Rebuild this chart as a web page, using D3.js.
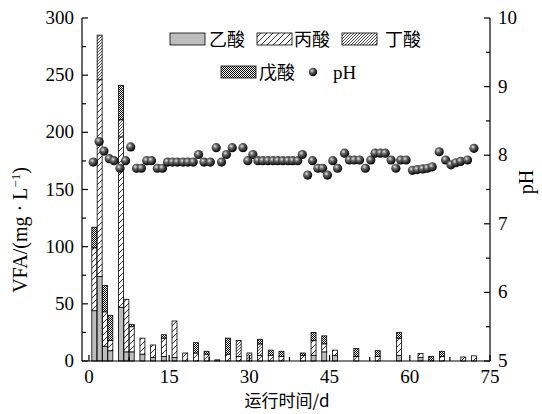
<!DOCTYPE html>
<html lang="zh">
<head>
  <meta charset="UTF-8">
  <title>VFA and pH</title>
  <script src="https://cdn.jsdelivr.net/npm/d3@7"></script>
  <style>
    body { margin: 0; background: #fff; }
    text { font-family: "Liberation Serif", "Noto Sans CJK SC", serif; fill: #000; }
    .cjk { font-family: "Noto Sans CJK SC", "Liberation Serif", sans-serif; }
  </style>
</head>
<body>
<script>
  // sampling days of the VFA bars
  const barDays = [1, 2, 3, 4, 6, 7, 8, 10, 12, 14, 16, 18, 20, 22, 24, 26, 28, 30, 32, 34, 36,
                   40, 42, 44, 46, 50, 54, 58, 62, 64, 66, 70, 72];
  const acetic    = [44, 74, 13, 9, 47, 8, 8, 6, 3, 4, 3, 0, 0, 0, 1, 0, 0, 0, 0, 0, 0,
                     0, 5, 8, 5, 0, 0, 5, 3, 0, 0, 0, 0];
  const propionic = [55, 172, 30, 9, 149, 46, 22, 14, 11, 16, 32, 7, 7, 6, 0, 6, 4, 0, 5, 5, 4,
                     5, 13, 7, 4.5, 4, 4, 15, 3.5, 0, 4, 3.5, 4.5];
  const butyric   = [0, 39, 0, 0, 15, 0, 0, 0, 0, 0, 0, 0, 0, 0, 0, 0, 14, 7, 10, 0, 0,
                     0, 0, 0, 0, 0, 0, 0, 0, 0, 0, 0, 0];
  const valeric   = [18, 0, 23, 22, 30, 0, 2, 0, 0, 3, 0, 0, 9, 2.5, 0, 14, 0, 0, 4, 4.5, 4.5,
                     2, 7, 7, 0, 7, 5, 5, 0, 4, 4.5, 0, 0];

  const phDays = [0.8, 1.9, 2.8, 3.8, 4.7, 5.8, 6.85, 7.8, 8.9, 9.8, 10.8, 11.7, 12.8, 13.75, 14.7,
                  15.6, 16.5, 17.6, 18.5, 19.5, 20.5, 21.5, 22.7, 23.8, 24.8, 25.7, 26.8, 28.8, 29.7,
                  30.65, 31.6, 32.5, 33.45, 34.4, 35.3, 36.25, 37.2, 38.1, 39.05, 39.9, 40.9, 41.8,
                  42.8, 43.7, 44.6, 45.6, 46.5, 47.8, 48.7, 49.6, 50.6, 51.7, 52.7, 53.5, 54.5, 55.4,
                  56.5, 57.4, 58.3, 59.3, 60.5, 61.4, 62.4, 63.3, 64.2, 65.5, 66.7, 67.7, 68.6, 69.5,
                  70.8, 72];
  const phValues = [7.9, 8.2, 8.06, 7.95, 7.92, 7.81, 7.92, 8.12, 7.81, 7.81, 7.92, 7.92, 7.81, 7.81, 7.9,
                    7.9, 7.9, 7.9, 7.9, 7.9, 8.01, 7.9, 7.9, 8.11, 7.9, 8.01, 8.11, 8.11, 7.92,
                    8.01, 7.92, 7.92, 7.92, 7.92, 7.92, 7.92, 7.92, 7.92, 7.92, 8.01, 7.71, 7.92,
                    7.81, 7.81, 7.71, 7.92, 7.81, 8.03, 7.93, 7.93, 7.93, 7.81, 7.93, 8.03, 8.03, 8.03,
                    7.93, 7.81, 7.93, 7.93, 7.78, 7.79, 7.8, 7.81, 7.83, 8.05, 7.93, 7.86, 7.89, 7.91,
                    7.93, 8.1];

  const xTicks = [0, 15, 30, 45, 60, 75];
  const vfaTicks = [0, 50, 100, 150, 200, 250, 300];
  const phTicks = [5, 6, 7, 8, 9, 10];
  const seriesKeys = ["乙酸", "丙酸", "丁酸", "戊酸"];
  const fills = ["#bdbdbd", "url(#pProp)", "url(#pBut)", "url(#pVal)"];

  const w = 542, h = 414;
  const m = {left: 82, right: 490, top: 18, bottom: 361};

  const x = d3.scaleLinear().domain([-1.3, 75]).range([m.left, m.right]);
  const y = d3.scaleLinear().domain([0, 300]).range([m.bottom, m.top]);
  const yPh = d3.scaleLinear().domain([5, 10]).range([m.bottom, m.top]);

  const svg = d3.select("body").append("svg")
    .attr("width", w).attr("height", h);

  const defs = svg.append("defs");
  const pProp = defs.append("pattern").attr("id", "pProp")
    .attr("patternUnits", "userSpaceOnUse").attr("width", 6).attr("height", 6);
  pProp.append("rect").attr("width", 6).attr("height", 6).attr("fill", "#fff");
  pProp.append("path").attr("d", "M0,6L6,0M-1.5,1.5L1.5,-1.5M4.5,7.5L7.5,4.5")
    .attr("stroke", "#000").attr("stroke-width", 0.8);

  const pBut = defs.append("pattern").attr("id", "pBut")
    .attr("patternUnits", "userSpaceOnUse").attr("width", 3).attr("height", 3);
  pBut.append("rect").attr("width", 3).attr("height", 3).attr("fill", "#fff");
  pBut.append("path").attr("d", "M0,3L3,0M-0.75,0.75L0.75,-0.75M2.25,3.75L3.75,2.25")
    .attr("stroke", "#000").attr("stroke-width", 0.7);

  const pVal = defs.append("pattern").attr("id", "pVal")
    .attr("patternUnits", "userSpaceOnUse").attr("width", 2).attr("height", 2);
  pVal.append("rect").attr("width", 2).attr("height", 2).attr("fill", "#fff");
  pVal.append("rect").attr("width", 1).attr("height", 1).attr("fill", "#000");
  pVal.append("rect").attr("x", 1).attr("y", 1).attr("width", 1).attr("height", 1).attr("fill", "#000");

  const ball = defs.append("radialGradient").attr("id", "ball")
    .attr("cx", "38%").attr("cy", "35%").attr("r", "65%");
  ball.append("stop").attr("offset", "0%").attr("stop-color", "#e8e8e8");
  ball.append("stop").attr("offset", "35%").attr("stop-color", "#6a6a6a");
  ball.append("stop").attr("offset", "100%").attr("stop-color", "#000");

  // stacked bars
  const table = barDays.map((d, i) => ({
    day: d, "乙酸": acetic[i], "丙酸": propionic[i], "丁酸": butyric[i], "戊酸": valeric[i]
  }));
  const stacked = d3.stack().keys(seriesKeys)(table);
  const bw = x(0.93) - x(0);

  stacked.forEach((layer, k) => {
    svg.append("g").selectAll("rect")
      .data(layer.filter(s => s[1] - s[0] > 0))
      .enter().append("rect")
      .attr("x", s => x(s.data.day) - bw / 2)
      .attr("y", s => y(s[1]))
      .attr("width", bw)
      .attr("height", s => y(s[0]) - y(s[1]))
      .attr("fill", fills[k])
      .attr("stroke", "#000")
      .attr("stroke-width", 0.8);
  });

  // axes
  const axes = svg.append("g").attr("stroke", "#000").attr("stroke-width", 1.2);
  axes.append("line").attr("x1", m.left).attr("x2", m.right).attr("y1", m.bottom).attr("y2", m.bottom);
  axes.append("line").attr("x1", m.left).attr("x2", m.left).attr("y1", m.top).attr("y2", m.bottom);
  axes.append("line").attr("x1", m.right).attr("x2", m.right).attr("y1", m.top).attr("y2", m.bottom);

  d3.range(0, 75.1, 7.5).forEach(t => {
    axes.append("line").attr("x1", x(t)).attr("x2", x(t))
      .attr("y1", m.bottom).attr("y2", m.bottom - (t % 15 === 0 ? 6 : 4));
  });
  d3.range(0, 300.1, 25).forEach(t => {
    axes.append("line").attr("x1", m.left).attr("x2", m.left + (t % 50 === 0 ? 6 : 4))
      .attr("y1", y(t)).attr("y2", y(t));
  });
  d3.range(5, 10.01, 0.5).forEach(t => {
    axes.append("line").attr("x1", m.right).attr("x2", m.right - (Math.abs(t % 1) < 0.01 ? 6 : 4))
      .attr("y1", yPh(t)).attr("y2", yPh(t));
  });

  svg.append("g").selectAll("text").data(xTicks).enter().append("text")
    .attr("x", d => x(d)).attr("y", m.bottom + 22)
    .attr("text-anchor", "middle").attr("font-size", 19).text(d => d);
  svg.append("g").selectAll("text").data(vfaTicks).enter().append("text")
    .attr("x", m.left - 8).attr("y", d => y(d) + 6)
    .attr("text-anchor", "end").attr("font-size", 19).text(d => d);
  svg.append("g").selectAll("text").data(phTicks).enter().append("text")
    .attr("x", m.right + 8).attr("y", d => yPh(d) + 6)
    .attr("text-anchor", "start").attr("font-size", 19).text(d => d);

  svg.append("text").attr("class", "cjk")
    .attr("x", 287).attr("y", 407).attr("text-anchor", "middle")
    .attr("font-size", 17).text("运行时间/d");

  const yTitle = svg.append("text")
    .attr("transform", "translate(27,230) rotate(-90)")
    .attr("text-anchor", "middle").attr("font-size", 20);
  yTitle.append("tspan").text("VFA/(mg · L");
  yTitle.append("tspan").attr("dy", -7).attr("font-size", 13).text("−1");
  yTitle.append("tspan").attr("dy", 7).text(")");

  svg.append("text")
    .attr("transform", "translate(533,182) rotate(-90)")
    .attr("text-anchor", "middle").attr("font-size", 20).text("pH");

  // pH points
  svg.append("g").selectAll("circle")
    .data(phDays.map((d, i) => [d, phValues[i]]))
    .enter().append("circle")
    .attr("cx", d => x(d[0])).attr("cy", d => yPh(d[1]))
    .attr("r", 4.6).attr("fill", "url(#ball)");

  // legend
  const legend = svg.append("g");
  const legendItems = [
    {k: 0, bx: 170, by: 33, tx: 209, ty: 46},
    {k: 1, bx: 257, by: 33, tx: 294, ty: 46},
    {k: 2, bx: 342, by: 33, tx: 385, ty: 46},
    {k: 3, bx: 221, by: 66, tx: 259, ty: 79}
  ];
  legendItems.forEach(it => {
    legend.append("rect").attr("x", it.bx).attr("y", it.by)
      .attr("width", 35).attr("height", 12)
      .attr("fill", fills[it.k]).attr("stroke", "#000").attr("stroke-width", 0.8);
    legend.append("text").attr("class", "cjk").attr("x", it.tx).attr("y", it.ty)
      .attr("font-size", 18).text(seriesKeys[it.k]);
  });
  legend.append("circle").attr("cx", 313).attr("cy", 72).attr("r", 4.2).attr("fill", "url(#ball)");
  legend.append("text").attr("x", 333).attr("y", 79).attr("font-size", 19).text("pH");
</script>
</body>
</html>
